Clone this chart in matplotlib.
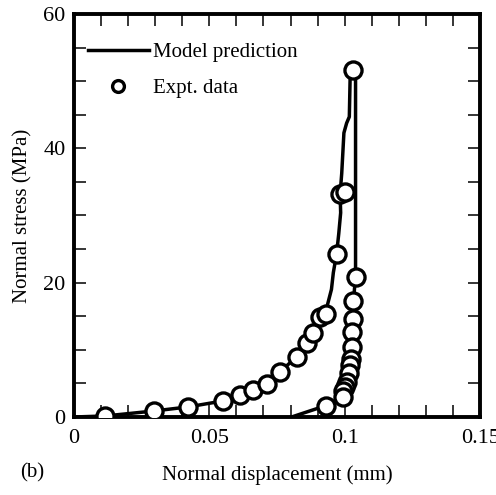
import matplotlib
matplotlib.use("Agg")
import matplotlib.pyplot as plt
from matplotlib.lines import Line2D
from matplotlib.ticker import MultipleLocator, FuncFormatter

plt.rcParams['font.family'] = ['Liberation Serif', 'DejaVu Serif']

# Experimental data (loading branch then unloading branch)
expt_disp = [0.0115, 0.0297, 0.0422, 0.0552, 0.0613, 0.0660, 0.0712, 0.0761,
             0.0823, 0.0860, 0.0884, 0.0909, 0.0931, 0.0970, 0.0983, 0.1001,
             0.1032,
             0.1040, 0.1032, 0.1032, 0.1026, 0.1026, 0.1022, 0.1020, 0.1014,
             0.1007, 0.1001, 0.0995, 0.0993, 0.0931]
expt_stress = [0.15, 0.9, 1.5, 2.4, 3.3, 4.0, 4.9, 6.7,
               9.0, 11.0, 12.5, 14.9, 15.4, 24.3, 33.2, 33.5,
               51.6,
               20.9, 17.2, 14.6, 12.7, 10.4, 8.7, 7.7, 6.5,
               5.25, 4.5, 3.8, 3.0, 1.7]

# Model prediction
model_disp = [0.0, 0.0115, 0.0297, 0.0422, 0.0552, 0.0613, 0.0660, 0.0712,
              0.0761, 0.0823, 0.0860, 0.0884, 0.0909, 0.0931, 0.0935, 0.0951,
              0.0958, 0.0970, 0.0978, 0.0985, 0.0983, 0.0989, 0.0997, 0.1007,
              0.1017, 0.1020, 0.1032,
              0.1040, 0.1040, 0.1032, 0.1032, 0.1026, 0.1026, 0.1022, 0.1020,
              0.1014, 0.1007, 0.1001, 0.0995, 0.0993, 0.0931, 0.0804]
model_stress = [0.0, 0.15, 0.9, 1.5, 2.4, 3.3, 4.0, 4.9,
                6.7, 9.0, 11.0, 12.5, 14.9, 15.4, 16.5, 19.0,
                21.5, 24.3, 27.3, 30.4, 33.2, 36.3, 42.3, 43.75,
                44.7, 50.6, 51.6,
                51.6, 20.9, 17.2, 14.6, 12.7, 10.4, 8.7, 7.7,
                6.5, 5.25, 4.5, 3.8, 3.0, 1.7, 0.0]

legend_labels = ['Model prediction', 'Expt. data']

fig = plt.figure(figsize=(4.96, 4.95), dpi=100)
ax = fig.add_axes([0.149, 0.1576, 0.819, 0.8141])

ax.plot(model_disp, model_stress, color='black', lw=2.5, solid_joinstyle='round', zorder=2)
ax.plot(expt_disp, expt_stress, linestyle='none', marker='o', ms=12.3,
        mfc='white', mec='black', mew=2.4, zorder=3)

ax.set_xlim(0, 0.15)
ax.set_ylim(0, 60)
ax.xaxis.set_major_locator(MultipleLocator(0.05))
ax.xaxis.set_minor_locator(MultipleLocator(0.01))
ax.yaxis.set_major_locator(MultipleLocator(20))
ax.yaxis.set_minor_locator(MultipleLocator(5))
ax.xaxis.set_major_formatter(FuncFormatter(lambda v, p: '%g' % round(v, 3)))
ax.tick_params(which='both', direction='in', top=True, right=True,
               length=8.5, width=1.1, labelsize=16)
ax.tick_params(axis='x', pad=9)
ax.tick_params(axis='y', pad=6)
for s in ax.spines.values():
    s.set_linewidth(2.8)

ax.set_xlabel('Normal displacement (mm)', fontsize=15, labelpad=12)
ax.set_ylabel('Normal stress (MPa)', fontsize=15, labelpad=8)
fig.text(0.04, 0.045, '(b)', fontsize=15, ha='left', va='center')

handles = [Line2D([], [], color='black', lw=2.5),
           Line2D([], [], linestyle='none', marker='o', ms=8.5, mfc='white',
                  mec='black', mew=2.4)]
ax.legend(handles, legend_labels, loc='upper left',
          bbox_to_anchor=(0.035, 0.93), frameon=False, fontsize=15,
          handlelength=2.9, handletextpad=0.2, labelspacing=0.8,
          borderpad=0, borderaxespad=0)

fig.savefig('out.png', dpi=100)
